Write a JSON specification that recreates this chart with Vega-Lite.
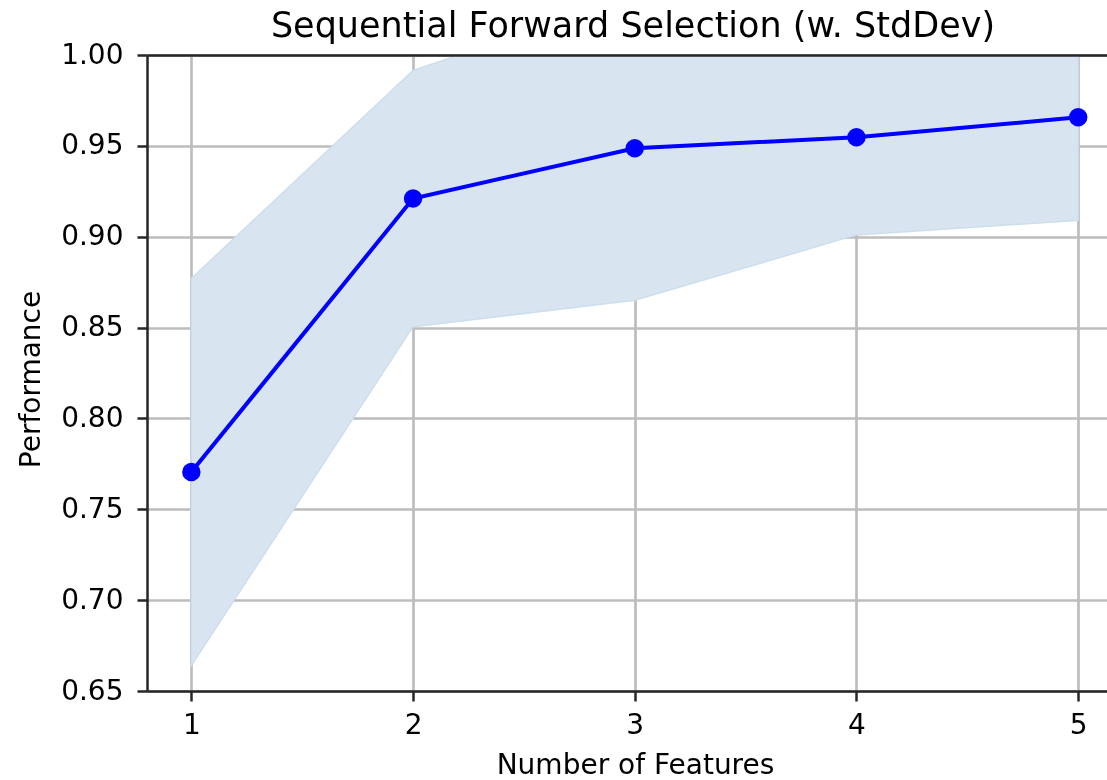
{
  "$schema": "https://vega.github.io/schema/vega-lite/v6.json",
  "width": 960,
  "height": 636,
  "autosize": {"type": "none"},
  "padding": {"left": 147, "top": 55, "right": 0, "bottom": 89},
  "background": "white",
  "title": {
    "text": "Sequential Forward Selection (w. StdDev)",
    "font": "DejaVu Sans",
    "fontSize": 35,
    "fontWeight": "normal",
    "color": "#000000",
    "anchor": "middle",
    "frame": "group",
    "dx": 6,
    "dy": 42,
    "baseline": "bottom",
    "offset": 4
  },
  "data": {
    "values": [
      {"features": 1, "performance": 0.7705, "lower": 0.664, "upper": 0.877},
      {"features": 2, "performance": 0.921, "lower": 0.8505, "upper": 0.9915},
      {"features": 3, "performance": 0.9487, "lower": 0.865, "upper": 1.0324},
      {"features": 4, "performance": 0.9547, "lower": 0.901, "upper": 1.0084},
      {"features": 5, "performance": 0.9657, "lower": 0.909, "upper": 1.0224}
    ]
  },
  "config": {
    "view": {"stroke": null},
    "axis": {
      "labelFont": "DejaVu Sans",
      "labelFontSize": 28,
      "labelColor": "#000000",
      "titleFont": "DejaVu Sans",
      "titleFontSize": 28,
      "titleFontWeight": "normal",
      "titleColor": "#000000",
      "tickColor": "#262626",
      "tickWidth": 2.5,
      "tickSize": 10,
      "domainColor": "#262626",
      "domainWidth": 2.5,
      "gridColor": "#bdbdbd",
      "gridWidth": 2.7,
      "gridOpacity": 1,
      "labelFlush": false,
      "labelOverlap": false,
      "labelBound": false
    }
  },
  "resolve": {"axis": {"x": "independent"}},
  "layer": [
    {
      "mark": {"type": "area", "clip": true, "color": "#d8e5f0", "opacity": 1, "blend": "darken", "stroke": "#cddeec", "strokeWidth": 1.5},
      "encoding": {
        "x": {
          "field": "features",
          "type": "quantitative",
          "scale": {"domain": [0.8, 5.13], "nice": false, "zero": false},
          "axis": {
            "orient": "bottom",
            "values": [1, 2, 3, 4, 5],
            "format": "d",
            "title": "Number of Features",
            "labelPadding": 10,
            "titleX": 488,
            "titleY": 82,
            "titleBaseline": "alphabetic",
            "titleAlign": "center"
          }
        },
        "y": {
          "field": "upper",
          "type": "quantitative",
          "scale": {"domain": [0.65, 1.0], "nice": false, "zero": false},
          "axis": {
            "values": [0.65, 0.7, 0.75, 0.8, 0.85, 0.9, 0.95, 1.0],
            "format": ".2f",
            "title": "Performance",
            "labelPadding": 14,
            "titleX": -108,
            "titleY": 324,
            "titleBaseline": "alphabetic",
            "titleAlign": "center"
          }
        },
        "y2": {"field": "lower"}
      }
    },
    {
      "mark": {"type": "line", "color": "#0000ff", "strokeWidth": 4},
      "encoding": {
        "x": {"field": "features", "type": "quantitative", "scale": {"domain": [0.8, 5.13], "nice": false, "zero": false}, "axis": null},
        "y": {"field": "performance", "type": "quantitative", "scale": {"domain": [0.65, 1.0], "nice": false, "zero": false}}
      }
    },
    {
      "mark": {"type": "point", "filled": true, "color": "#0000ff", "size": 340, "opacity": 1},
      "encoding": {
        "x": {
          "field": "features",
          "type": "quantitative",
          "scale": {"domain": [0.8, 5.13], "nice": false, "zero": false},
          "axis": {"orient": "top", "labels": false, "ticks": false, "grid": false, "title": null, "domain": true, "zindex": 1}
        },
        "y": {"field": "performance", "type": "quantitative", "scale": {"domain": [0.65, 1.0], "nice": false, "zero": false}}
      }
    }
  ]
}
